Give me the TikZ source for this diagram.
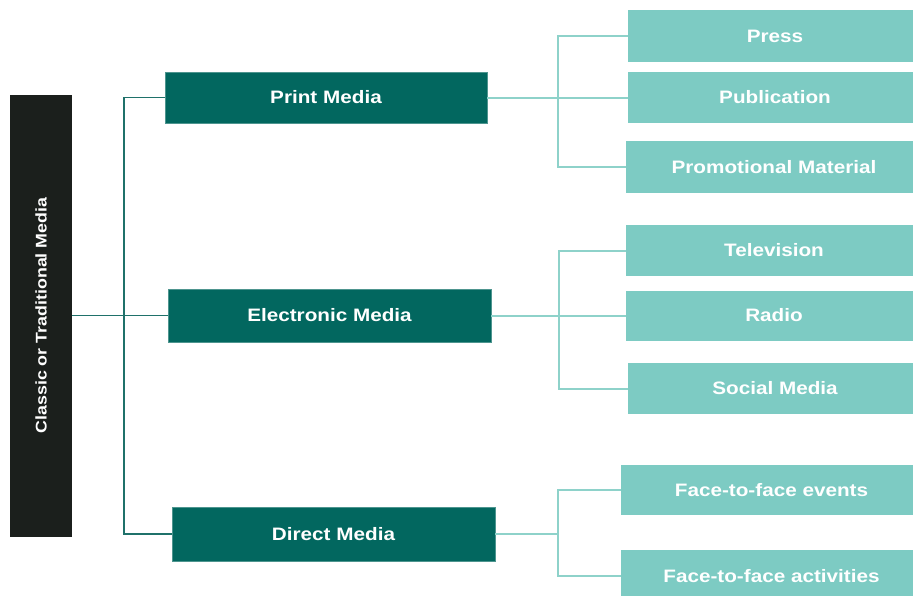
\documentclass[tikz,border=0pt]{standalone}
\usepackage{fontspec}
\setmainfont{Liberation Sans}[FakeStretch=1.15]
\definecolor{rootbg}{HTML}{1B1F1C}
\definecolor{darkteal}{HTML}{02675F}
\definecolor{lightteal}{HTML}{7DCBC3}
\definecolor{trunkline}{HTML}{1F716A}
\definecolor{leafline}{HTML}{8ED2CA}
\begin{document}
\begin{tikzpicture}[x=1pt,y=-1pt,
  rootbox/.style={fill=rootbg, text=white, inner sep=0pt,
    font=\fontsize{15.5}{18}\selectfont\bfseries},
  groupbox/.style={fill=darkteal, draw=darkteal!70!white, line width=0.6pt,
    text=white, inner sep=0pt, font=\fontsize{18}{21}\selectfont\bfseries},
  leafbox/.style={fill=lightteal, text=white, inner sep=0pt,
    font=\fontsize{18}{21}\selectfont\bfseries,
    execute at begin node={\hspace*{9pt}}},
  trunk/.style={draw=trunkline, line width=1.9pt},
  branch/.style={draw=leafline, line width=2pt}]
\useasboundingbox (0,0) rectangle (913,595);
\clip (0,0) rectangle (913,595);

% root column
\node[rootbox, minimum width=62pt, minimum height=442pt] (root) at (41,315.5)
  {\rotatebox{90}{Classic or Traditional Media}};

% media groups
\node[groupbox, minimum width=322pt, minimum height=51pt] (print) at (326,97.5) {Print Media};
\node[groupbox, minimum width=323pt, minimum height=53pt] (elec) at (329.5,315.5) {Electronic Media};
\node[groupbox, minimum width=323pt, minimum height=54pt] (direct) at (333.5,534) {Direct Media};

% leaves
\node[leafbox, minimum width=285pt, minimum height=52pt] (press) at (770.5,36) {Press};
\node[leafbox, minimum width=285pt, minimum height=51pt] (pub) at (770.5,97.5) {Publication};
\node[leafbox, minimum width=287pt, minimum height=52pt] (promo) at (769.5,167) {Promotional Material};
\node[leafbox, minimum width=287pt, minimum height=51pt] (tv) at (769.5,250.5) {Television};
\node[leafbox, minimum width=287pt, minimum height=50pt] (radio) at (769.5,315.5) {Radio};
\node[leafbox, minimum width=285pt, minimum height=51pt] (social) at (770.5,388.5) {Social Media};
\node[leafbox, minimum width=292pt, minimum height=50pt] (events) at (767,490) {Face-to-face events};
\node[leafbox, minimum width=292pt, minimum height=52pt] (acts) at (767,576) {Face-to-face activities};

% bus positions
\coordinate (tk) at (124,0);
\coordinate (b1) at (558,0);
\coordinate (b2) at (559,0);
\coordinate (b3) at (558,0);

% root to groups
\draw[trunk] (root.east) -- (elec.west);
\draw[trunk] (print.west) -- (print.west -| tk) -- (direct.west -| tk) -- (direct.west);

% print media leaves
\draw[branch] (print.east) -- (pub.west);
\draw[branch] (press.west) -- (press.west -| b1) -- (promo.west -| b1) -- (promo.west);

% electronic media leaves
\draw[branch] (elec.east) -- (radio.west);
\draw[branch] (tv.west) -- (tv.west -| b2) -- (social.west -| b2) -- (social.west);

% direct media leaves
\draw[branch] (direct.east) -- (direct.east -| b3);
\draw[branch] (events.west) -- (events.west -| b3) -- (acts.west -| b3) -- (acts.west);
\end{tikzpicture}
\end{document}
